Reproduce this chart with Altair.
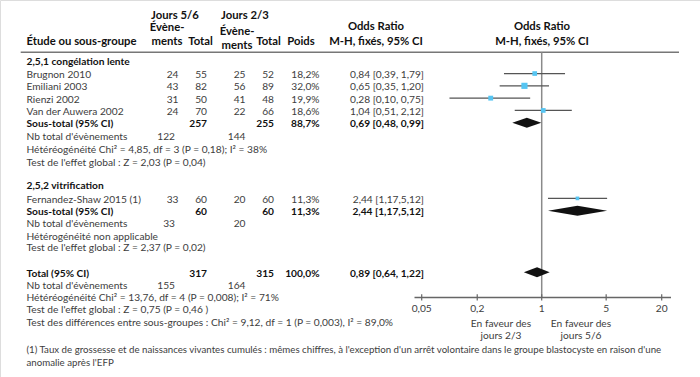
import altair as alt
import pandas as pd

# ---------------- data ----------------
studies = ["Brugnon 2010", "Emiliani 2003", "Rienzi 2002", "Van der Auwera 2002", "Fernandez-Shaw 2015 (1)"]
ev56 = [24, 43, 31, 24, 33]
tot56 = [55, 82, 50, 70, 60]
ev23 = [25, 56, 41, 22, 20]
tot23 = [52, 89, 48, 66, 60]
weights = [18.2, 32.0, 19.9, 18.6, 11.3]
weight_txt = ["18,2%", "32,0%", "19,9%", "18,6%", "11,3%"]
or_est = [0.84, 0.65, 0.28, 1.04, 2.44]
or_lo = [0.39, 0.35, 0.10, 0.51, 1.17]
or_hi = [1.79, 1.20, 0.75, 2.12, 5.12]
or_txt = ["0,84 [0,39, 1,79]", "0,65 [0,35, 1,20]", "0,28 [0,10, 0,75]",
          "1,04 [0,51, 2,12]", "2,44 [1,17,5,12]"]

sum_labels = ["Sous-total (95% CI)", "Sous-total (95% CI)", "Total (95% CI)"]
sum_tot56 = [257, 60, 317]
sum_tot23 = [255, 60, 315]
sum_w = ["88,7%", "11,3%", "100,0%"]
sum_est = [0.69, 2.44, 0.89]
sum_lo = [0.48, 1.17, 0.64]
sum_hi = [0.99, 5.12, 1.22]
sum_txt = ["0,69 [0,48, 0,99]", "2,44 [1,17,5,12]", "0,89 [0,64, 1,22]"]

nb_ev56 = [122, 33, 155]
nb_ev23 = [144, 20, 164]

group_labels = ["2,5,1 congélation lente", "2,5,2 vitrification"]
stat_lines = [
    "Hétéréogénéité Chi² = 4,85, df = 3 (P = 0,18); I² = 38%",
    "Test de l'effet global : Z = 2,03 (P = 0,04)",
    "Hétérogénéité non applicable",
    "Test de l'effet global : Z = 2,37 (P = 0,02)",
    "Hétéréogénéité Chi² = 13,76, df = 4 (P = 0,008); I² = 71%",
    "Test de l'effet global : Z = 0,75 (P = 0,46 )",
    "Test des différences entre sous-groupes : Chi² = 9,12, df = 1 (P = 0,003), I² = 89,0%",
]
footnotes = [
    "(1) Taux de grossesse et de naissances vivantes cumulés : mêmes chiffres, à l'exception d'un arrêt volontaire dans le groupe blastocyste en raison d'une",
    "anomalie après l'EFP",
]
tick_values = [0.05, 0.2, 1, 5, 20]
tick_labels = ["0,05", "0,2", "1", "5", "20"]
favour_left = ["En faveur des", "jours 2/3"]
favour_right = ["En faveur des", "jours 5/6"]

# ---------------- layout (row positions) ----------------
study_rows = [1.1, 2.1, 3.1, 4.1, 11.25]
sum_rows = [5.1, 12.25, 17.25]
nb_rows = [6.15, 13.2, 18.25]
group_rows = [0, 10.1]
stat_rows = [7.2, 8.25, 14.25, 15.2, 19.25, 20.2, 21.25]
foot_rows = [23.45, 24.5]
fav_rows = [21.3, 22.35]
axis_row = 19.3
header_line_row = -0.63

FONT = "Lato"
FS = 10.2
FS_HDR = 11.3
FS_FOOT = 9.7
C_TXT = "#3d3d3d"
C_BOLD = "#111111"

yscale = alt.Scale(domain=[-4.878, 25.77], reverse=True, nice=False, zero=False)
xscale = alt.Scale(type="log", domain=[0.05, 20], range=[421.7, 661.7], nice=False)
Y = alt.Y("row:Q", scale=yscale, axis=None)


def text_layer(df, field, x, align="left", bold=False, color=None, dy=1.5, size=FS):
    return alt.Chart(df).mark_text(
        align=align, baseline="middle", font=FONT, fontSize=size,
        fontWeight="bold" if bold else "normal",
        color=color or (C_BOLD if bold else C_TXT), dy=dy,
    ).encode(x=alt.value(x), y=Y, text=f"{field}:N")


st = pd.DataFrame({
    "row": study_rows, "label": studies,
    "ev56": [str(v) for v in ev56], "tot56": [str(v) for v in tot56],
    "ev23": [str(v) for v in ev23], "tot23": [str(v) for v in tot23],
    "w": weight_txt, "ortxt": or_txt,
})
sm = pd.DataFrame({
    "row": sum_rows, "label": sum_labels,
    "tot56": [str(v) for v in sum_tot56], "tot23": [str(v) for v in sum_tot23],
    "w": sum_w, "ortxt": sum_txt,
})
nb = pd.DataFrame({
    "row": nb_rows, "label": ["Nb total d'évènements"] * 3,
    "ev56": [str(v) for v in nb_ev56], "ev23": [str(v) for v in nb_ev23],
})
gr = pd.DataFrame({"row": group_rows, "label": group_labels})
sl = pd.DataFrame({"row": stat_rows, "label": stat_lines})
fn = pd.DataFrame({"row": foot_rows, "label": footnotes})

layers = []
layers += [
    text_layer(st, "label", 26.5),
    text_layer(st, "ev56", 178.5, "right"),
    text_layer(st, "tot56", 207, "right"),
    text_layer(st, "ev23", 245.5, "right"),
    text_layer(st, "tot23", 274, "right"),
    text_layer(st, "w", 319.5, "right"),
    text_layer(st, "ortxt", 424, "right"),
    text_layer(sm, "label", 26.5, bold=True),
    text_layer(sm, "tot56", 207, "right", bold=True),
    text_layer(sm, "tot23", 274, "right", bold=True),
    text_layer(sm, "w", 319.5, "right", bold=True),
    text_layer(sm, "ortxt", 424, "right", bold=True),
    text_layer(nb, "label", 26.5),
    text_layer(nb, "ev56", 175, "right"),
    text_layer(nb, "ev23", 245.5, "right"),
    text_layer(gr, "label", 26.5, bold=True),
    text_layer(sl, "label", 26.5),
    text_layer(fn, "label", 26.5, size=FS_FOOT),
]

hdr = pd.DataFrame([
    ("Jours 5/6", 151, -3.7, "left"),
    ("Évène-", 167, -2.75, "center"),
    ("ments", 167, -1.6, "center"),
    ("Total", 200.5, -1.6, "center"),
    ("Jours 2/3", 221, -3.7, "left"),
    ("Évène-", 237, -2.42, "center"),
    ("ments", 237, -1.24, "center"),
    ("Total", 268.5, -1.6, "center"),
    ("Poids", 301, -1.6, "center"),
    ("Étude ou sous-groupe", 26.5, -1.6, "left"),
    ("Odds Ratio", 376, -2.83, "center"),
    ("M-H, fixés, 95% CI", 376, -1.6, "center"),
    ("Odds Ratio", 542, -2.83, "center"),
    ("M-H, fixés, 95% CI", 542, -1.6, "center"),
], columns=["label", "x", "row", "align"])
for i, r in hdr.iterrows():
    layers.append(text_layer(hdr.iloc[[i]], "label", float(r["x"]), r["align"], bold=True, size=FS_HDR))

layers.append(alt.Chart(pd.DataFrame({"row": [header_line_row]})).mark_rule(
    color="#777777", strokeWidth=1.5).encode(x=alt.value(20.7), x2=alt.value(679), y=Y))

layers.append(alt.Chart(pd.DataFrame({"v": [1], "row": [header_line_row], "row2": [axis_row]})).mark_rule(
    color="#8a8a8a", strokeWidth=1.5).encode(
    x=alt.X("v:Q", scale=xscale, axis=None), y=Y, y2="row2:Q"))

layers.append(alt.Chart(pd.DataFrame({"row": [axis_row]})).mark_rule(
    color="#666666", strokeWidth=1.5).encode(x=alt.value(414.5), x2=alt.value(671), y=Y))
tk = pd.DataFrame({"v": tick_values, "lab": tick_labels,
                   "row": [axis_row - 0.25] * 5, "row2": [axis_row + 0.25] * 5,
                   "lrow": [axis_row + 0.8] * 5})
layers.append(alt.Chart(tk).mark_rule(color="#666666", strokeWidth=1.2).encode(
    x=alt.X("v:Q", scale=xscale, axis=None), y=Y, y2="row2:Q"))
layers.append(alt.Chart(tk).mark_text(font=FONT, fontSize=FS, color=C_TXT, baseline="middle", dy=1.5).encode(
    x=alt.X("v:Q", scale=xscale, axis=None),
    y=alt.Y("lrow:Q", scale=yscale, axis=None), text="lab:N"))

fav = pd.DataFrame({"row": fav_rows, "l": favour_left, "r": favour_right})
layers.append(text_layer(fav, "l", 501, "center"))
layers.append(text_layer(fav, "r", 581, "center"))

ci = pd.DataFrame({"row": study_rows, "est": or_est, "lo": or_lo, "hi": or_hi, "w": weights})
layers.append(alt.Chart(ci).mark_rule(color="#555555", strokeWidth=1.2).encode(
    x=alt.X("lo:Q", scale=xscale, axis=None), x2="hi:Q", y=Y))
layers.append(alt.Chart(ci).mark_square(color="#56c5f2", opacity=1, filled=True).encode(
    x=alt.X("est:Q", scale=xscale, axis=None), y=Y,
    size=alt.Size("w:Q", scale=alt.Scale(domain=[0, 32], range=[0, 38], zero=True), legend=None)))

h = 0.41
dpts = []
for k in range(3):
    rw = sum_rows[k]
    dpts += [
        {"id": k, "x": sum_lo[k], "row": rw, "row2": rw},
        {"id": k, "x": sum_est[k], "row": rw - h, "row2": rw + h},
        {"id": k, "x": sum_hi[k], "row": rw, "row2": rw},
    ]
layers.append(alt.Chart(pd.DataFrame(dpts)).mark_area(color="#111111", orient="vertical", opacity=1).encode(
    x=alt.X("x:Q", scale=xscale, axis=None), y=Y, y2="row2:Q", detail="id:N"))

chart = alt.layer(*layers).properties(
    width=700, height=377, padding=0, autosize=alt.AutoSizeParams(type="none")
).configure_view(stroke="#5bc5ef", strokeWidth=3.5).configure(background="white")

chart.save("out.html", embed_options={"renderer": "svg", "actions": False})
